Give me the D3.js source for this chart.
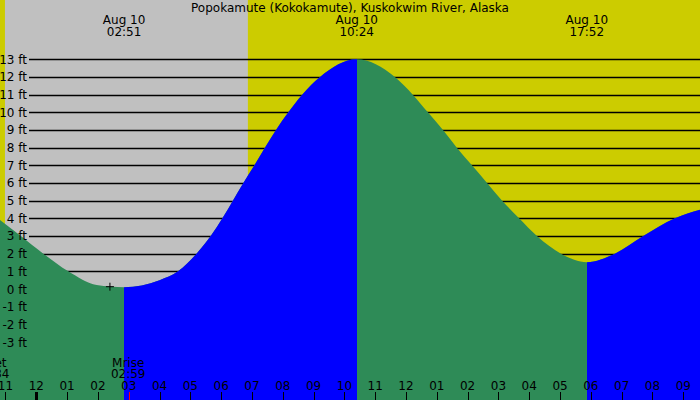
<!DOCTYPE html>
<html>
<head>
<meta charset="utf-8">
<script src="https://cdn.jsdelivr.net/npm/d3@7"></script>
<style>
  body { margin: 0; background: #fff; }
  svg text { font-family: "DejaVu Sans", sans-serif; font-size: 12px; fill: #000; }
</style>
</head>
<body>
<svg id="chart" width="700" height="400"></svg>
<script>
"use strict";

// --- data (hours since midnight Aug 10, feet) ---
var title = "Popokamute (Kokokamute), Kuskokwim River, Alaska";

var tideHours = [-1.178, -0.5, 0.227, 1.038, 1.96, 2.85, 4.0, 4.6, 5.2, 5.66, 6.04, 6.38, 6.72, 7.08, 7.42, 7.78, 8.18, 8.63, 9.21, 10.4,
                 11.64, 12.22, 12.71, 13.2, 13.65, 14.14, 14.63, 15.12, 15.67, 16.25, 17.03, 17.867, 18.78, 19.7, 20.73, 21.542];
var tideFeet  = [3.9, 3, 2, 1, 0.22, 0.1, 0.5, 1, 2, 3, 4, 5, 6, 7, 8, 9, 10, 11, 12, 13,
                 12, 11, 10, 9, 8, 7, 6, 5, 4, 3, 2, 1.52, 2, 3, 4, 4.48];

var extremeHours  = [2.85, 10.4, 17.867];
var extremeDates  = ["Aug 10", "Aug 10", "Aug 10"];
var extremeLabels = ["02:51", "10:24", "17:52"];

var sunsetHour = -1.017;
var sunriseHour = 6.867;

var moonNames  = ["Mset", "Mrise"];
var moonHours  = [-1.433, 2.983];
var moonLabels = ["22:34", "02:59"];

var hourTicks  = [-1, 0, 1, 2, 3, 4, 5, 6, 7, 8, 9, 10, 11, 12, 13, 14, 15, 16, 17, 18, 19, 20, 21];
var hourLabels = ["11", "12", "01", "02", "03", "04", "05", "06", "07", "08", "09", "10", "11", "12", "01", "02", "03", "04", "05", "06", "07", "08", "09"];

var feetTicks = [13, 12, 11, 10, 9, 8, 7, 6, 5, 4, 3, 2, 1, 0, -1, -2, -3];

var markerHour = 2.39;
var markerFeet = 0.13;

// --- setup ---
var W = 700, H = 400;
var svg = d3.select("#chart");

var x = d3.scaleLinear().domain([-1.178, 21.542]).range([0, W]);
var y = d3.scaleLinear().domain([0, 13]).range([289, 59.3]);

var dayColor = "#cccc00";
var nightColor = "#c0c0c0";
var fallColor = "#2e8b57";
var riseColor = "#0000ff";

// фон: день / ночь
svg.append("rect").attr("width", W).attr("height", H).attr("fill", dayColor);
svg.append("rect")
    .attr("x", x(sunsetHour))
    .attr("y", 0)
    .attr("width", x(sunriseHour) - x(sunsetHour))
    .attr("height", H)
    .attr("fill", nightColor);

// grid lines
svg.append("g").selectAll("line")
    .data(feetTicks).enter().append("line")
    .attr("x1", 29).attr("x2", W)
    .attr("y1", function (d) { return Math.round(y(d)) + 0.5; })
    .attr("y2", function (d) { return Math.round(y(d)) + 0.5; })
    .attr("stroke", "#000").attr("stroke-width", 1.3);

// tide area: whole area as falling, rising segments painted over it
var pts = tideHours.map(function (h, i) { return [h, tideFeet[i]]; });
var area = d3.area()
    .x(function (d) { return x(d[0]); })
    .y0(H)
    .y1(function (d) { return y(d[1]); })
    .curve(d3.curveMonotoneX);

svg.append("path").attr("d", area(pts)).attr("fill", fallColor);

var bounds = [x.domain()[0]].concat(extremeHours, [x.domain()[1]]);
var defs = svg.append("defs");
for (var i = 0; i < bounds.length - 1; i++) {
    var rising = tideFeet[tideHours.indexOf(bounds[i + 1])] > tideFeet[tideHours.indexOf(bounds[i])];
    if (!rising) continue;
    var id = "seg" + i;
    var x0 = Math.round(x(bounds[i])), x1 = Math.round(x(bounds[i + 1]));
    defs.append("clipPath").attr("id", id).append("rect")
        .attr("x", x0).attr("y", 0)
        .attr("width", x1 - x0).attr("height", H);
    svg.append("path")
        .attr("d", area(pts))
        .attr("clip-path", "url(#" + id + ")")
        .attr("fill", riseColor);
}

// "+" marker
var mx = x(markerHour), my = y(markerFeet);
svg.append("path")
    .attr("d", "M" + (mx - 4) + "," + my + "H" + (mx + 4) + "M" + mx + "," + (my - 4) + "V" + (my + 4))
    .attr("stroke", "#000").attr("stroke-width", 1);

// y labels
svg.append("g").selectAll("text")
    .data(feetTicks).enter().append("text")
    .attr("x", 27)
    .attr("y", function (d) { return y(d) + 4.5; })
    .attr("text-anchor", "end")
    .text(function (d) { return d + " ft"; });

// title
svg.append("text").attr("x", W / 2).attr("y", 11.5).attr("text-anchor", "middle").text(title);

// high / low labels
var topLabels = svg.append("g").selectAll("g").data(extremeHours).enter().append("g");
topLabels.append("text")
    .attr("x", function (d) { return x(d); }).attr("y", 23.5)
    .attr("text-anchor", "middle")
    .text(function (d, i) { return extremeDates[i]; });
topLabels.append("text")
    .attr("x", function (d) { return x(d); }).attr("y", 35.5)
    .attr("text-anchor", "middle")
    .text(function (d, i) { return extremeLabels[i]; });

// moon labels
var moon = svg.append("g").selectAll("g").data(moonHours).enter().append("g");
moon.append("text")
    .attr("x", function (d) { return x(d); }).attr("y", 366.5)
    .attr("text-anchor", "middle")
    .text(function (d, i) { return moonNames[i]; });
moon.append("text")
    .attr("x", function (d) { return x(d); }).attr("y", 378)
    .attr("text-anchor", "middle")
    .text(function (d, i) { return moonLabels[i]; });

// hour axis
svg.append("g").selectAll("text")
    .data(hourTicks).enter().append("text")
    .attr("x", function (d) { return x(d); }).attr("y", 390)
    .attr("text-anchor", "middle")
    .text(function (d, i) { return hourLabels[i]; });
svg.append("g").selectAll("line")
    .data(hourTicks).enter().append("line")
    .attr("x1", function (d) { return Math.round(x(d)) + 0.5; })
    .attr("x2", function (d) { return Math.round(x(d)) + 0.5; })
    .attr("y1", 392).attr("y2", H)
    .attr("stroke", "#000")
    .attr("stroke-width", function (d) { return d === 0 ? 3 : 1; });

// moonrise tick
svg.append("line")
    .attr("x1", Math.round(x(moonHours[1])) + 1.5).attr("x2", Math.round(x(moonHours[1])) + 1.5)
    .attr("y1", 392).attr("y2", H)
    .attr("stroke", "#ff0000").attr("stroke-width", 1);
</script>
</body>
</html>
